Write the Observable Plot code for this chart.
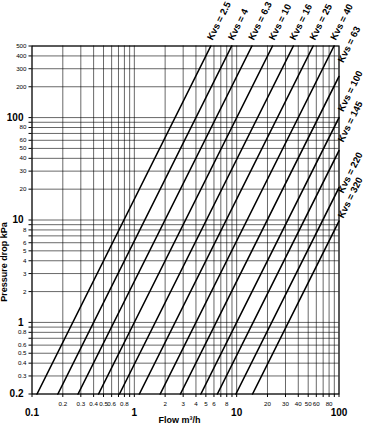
<!DOCTYPE html>
<html>
<head>
<meta charset="utf-8">
<script src="https://cdn.jsdelivr.net/npm/d3@7"></script>
<script src="https://cdn.jsdelivr.net/npm/@observablehq/plot@0.6"></script>
<style>
  html, body { margin: 0; padding: 0; background: #fff; }
  #chart svg { display: block; }
</style>
</head>
<body>
<div id="chart"></div>
<script>
// Kvs values of the valve curves
const kvs = [2.5, 4, 6.3, 10, 16, 25, 40, 63, 100, 145, 220, 320];
// Where each curve enters at the bottom (0.2 kPa)
const startFlow = [0.112, 0.179, 0.282, 0.447, 0.716, 1.12, 1.79, 2.82, 4.47, 6.48, 9.84, 14.3];
const startDrop = [0.2, 0.2, 0.2, 0.2, 0.2, 0.2, 0.2, 0.2, 0.2, 0.2, 0.2, 0.2];
// ...and where each curve leaves (top edge at 500 kPa or right edge at 100 m3/h)
const endFlow = [5.59, 8.94, 14.1, 22.4, 35.8, 55.9, 89.4, 100, 100, 100, 100, 100];
const endDrop = [500, 500, 500, 500, 500, 500, 500, 252, 100, 47.6, 20.7, 9.77];
// Pressure level (kPa) at which each curve's "Kvs = …" label starts
const labelDrop = [500, 500, 500, 500, 500, 500, 500, 349, 116.5, 58.7, 18.6, 10.6];

// Grid and tick labels
const xGrid = [0.1,0.2,0.3,0.4,0.5,0.6,0.7,0.8,0.9,1,2,3,4,5,6,7,8,9,10,20,30,40,50,60,70,80,90,100];
const xSmall = [0.2,0.3,0.4,0.5,0.6,0.8,2,3,4,5,6,8,20,30,40,50,60,80];
const xBig = [0.1, 1, 10, 100];
const yGrid = [0.2,0.3,0.4,0.5,0.6,0.7,0.8,0.9,1,2,3,4,5,6,7,8,9,10,20,30,40,50,60,70,80,90,100,200,300,400,500];
const ySmall = [0.3,0.4,0.5,0.6,0.8,2,3,4,5,6,8,20,30,40,50,60,80,200,300,400,500];
const yBig = [0.2, 1, 10, 100];

const lines = kvs.flatMap((k, i) => [
  {kvs: k, q: startFlow[i], dp: startDrop[i]},
  {kvs: k, q: endFlow[i], dp: endDrop[i]}
]);
const labels = kvs.map((k, i) => ({
  text: `Kvs = ${k}`, q: endFlow[i], dp: labelDrop[i], top: endDrop[i] >= 500
}));

const font = "'Liberation Sans', Arial, Helvetica, sans-serif";
const W = 367, H = 424;

const chart = Plot.plot({
  width: W,
  height: H,
  marginLeft: 31.5,
  marginRight: 28.5,
  marginTop: 45.5,
  marginBottom: 30.5,
  style: {fontFamily: font, background: "#fff", color: "#000", overflow: "visible"},
  x: {type: "log", domain: [0.1, 100], axis: null},
  y: {type: "log", domain: [0.2, 500], axis: null},
  marks: [
    Plot.gridX(xGrid, {stroke: "#000", strokeOpacity: 0.85, strokeWidth: 0.7}),
    Plot.gridY(yGrid, {stroke: "#000", strokeOpacity: 0.85, strokeWidth: 0.7}),
    Plot.frame({stroke: "#000", strokeWidth: 1}),
    // tick marks just outside the frame
    Plot.axisX(xGrid, {tickSize: 3.5, tickFormat: () => "", label: null, stroke: "#000"}),
    Plot.axisY(yGrid, {tickSize: 3, tickFormat: () => "", label: null, stroke: "#000"}),
    // tick labels
    Plot.text(xSmall, {x: d => d, frameAnchor: "bottom", lineAnchor: "middle", textAnchor: "middle",
      dy: 10.5, fontSize: 6.2, text: d => String(d), fill: "#000"}),
    Plot.text(xBig, {x: d => d, frameAnchor: "bottom", lineAnchor: "middle", textAnchor: "middle",
      dy: 19, fontSize: 10, fontWeight: "bold", text: d => String(d), fill: "#000"}),
    Plot.text(ySmall, {y: d => d, frameAnchor: "left", lineAnchor: "middle", textAnchor: "end",
      dx: -5.5, fontSize: 6.2, text: d => String(d), fill: "#000"}),
    Plot.text(yBig, {y: d => d, frameAnchor: "left", lineAnchor: "middle", textAnchor: "end",
      dx: -8.5, fontSize: 10, fontWeight: "bold", text: d => String(d), fill: "#000"}),
    // Kvs curves
    Plot.line(lines, {x: "q", y: "dp", z: "kvs", stroke: "#000", strokeWidth: 1.6}),
    Plot.text(labels.filter(d => d.top), {x: "q", y: "dp", text: "text", rotate: -63.43,
      textAnchor: "start", lineAnchor: "middle", dx: -1, dy: -6.5, fontSize: 9.5, fontWeight: "bold", fill: "#000"}),
    Plot.text(labels.filter(d => !d.top), {x: "q", y: "dp", text: "text", rotate: -63.43,
      textAnchor: "start", lineAnchor: "middle", dx: 1.5, dy: 0, fontSize: 9.5, fontWeight: "bold", fill: "#000"}),
    // axis titles
    Plot.text(["Flow m³/h"], {frameAnchor: "bottom", textAnchor: "middle", lineAnchor: "bottom",
      text: d => d, dy: 28.5, dx: -6, fontSize: 9, fontWeight: "bold", fill: "#000"}),
    Plot.text(["Pressure drop kPa"], {frameAnchor: "left", textAnchor: "middle", lineAnchor: "middle",
      text: d => d, rotate: -90, dx: -27.5, dy: 42, fontSize: 9, fontWeight: "bold", fill: "#000"})
  ]
});
document.getElementById("chart").appendChild(chart);
</script>
</body>
</html>
